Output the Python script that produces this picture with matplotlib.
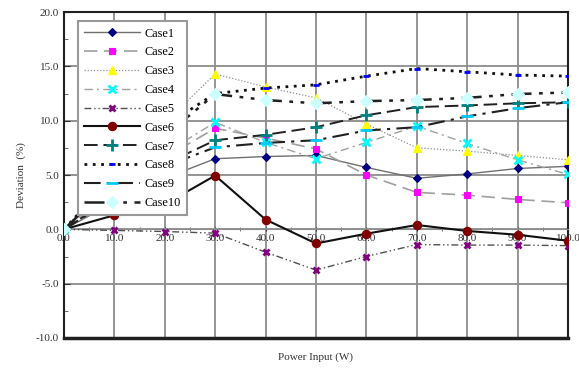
import numpy as np
import matplotlib
matplotlib.use('Agg')
import matplotlib.pyplot as plt
from matplotlib.ticker import MultipleLocator

plt.rcParams['font.family'] = ['Liberation Serif', 'DejaVu Serif']

power = [0, 10, 20, 30, 40, 50, 60, 70, 80, 90, 100]
case1 = [0, 2.5, 4.7, 6.5, 6.7, 6.8, 5.7, 4.7, 5.1, 5.6, 5.8]
case2 = [0, 3.5, 6.6, 9.3, 8.4, 7.4, 5.0, 3.4, 3.15, 2.75, 2.45]
case3 = [0, 5.0, 9.8, 14.3, 13.1, 12.1, 9.7, 7.5, 7.2, 6.8, 6.4]
case4 = [0, 3.6, 7.0, 9.85, 8.0, 6.5, 8.0, 9.5, 7.9, 6.4, 5.05]
case5 = [0, -0.1, -0.2, -0.35, -2.1, -3.75, -2.5, -1.4, -1.45, -1.45, -1.5]
case6 = [0, 1.3, 2.3, 4.95, 0.9, -1.3, -0.4, 0.4, -0.15, -0.5, -1.05]
case7 = [0, 3.0, 6.0, 8.2, 8.7, 9.4, 10.5, 11.25, 11.4, 11.6, 11.7]
case8 = [0, 5.0, 9.5, 12.5, 13.0, 13.3, 14.1, 14.8, 14.5, 14.2, 14.1]
case9 = [0, 2.9, 5.8, 7.55, 7.95, 8.2, 9.1, 9.4, 10.4, 11.15, 11.7]
case10 = [0, 4.4, 8.6, 12.45, 11.9, 11.6, 11.8, 11.9, 12.1, 12.45, 12.6]

fig = plt.figure(figsize=(5.79, 3.70), dpi=100)
ax = fig.add_axes([0.1105, 0.0865, 0.8705, 0.881])

# line style, line colour, width, marker, marker colour, marker size
styles = [
    ('Case1', case1, '-', '#707070', 1.0, 'D', '#000080', 4),
    ('Case2', case2, (0, (8, 4)), '#a0a0a0', 1.2, 's', '#ff00ff', 4.5),
    ('Case3', case3, (0, (1, 1.5)), '#909090', 0.9, '^', '#ffff00', 6),
    ('Case4', case4, (0, (6, 3, 1.5, 3)), '#a0a0a0', 1.0, 'x', '#00ffff', 6),
    ('Case5', case5, (0, (5, 2, 1, 2, 1, 2)), '#505050', 1.0, 'x', '#800080', 5),
    ('Case6', case6, '-', '#101010', 1.5, 'o', '#800000', 6),
    ('Case7', case7, (0, (7, 3)), '#202020', 1.4, '+', '#008080', 8),
    ('Case8', case8, (0, (1, 2)), '#101010', 2.0, '_', '#0000ff', 5),
    ('Case9', case9, (0, (8, 3, 1.5, 3)), '#202020', 1.5, '_', '#00ccff', 8),
    ('Case10', case10, (0, (8, 3, 1.5, 3, 1.5, 3)), '#202020', 1.8, 'D', '#ccffff', 6),
]

for name, vals, ls, lc, lw, mk, mc, ms in styles:
    ax.plot(power, vals, linestyle=ls, color=lc, linewidth=lw, marker=mk,
            markerfacecolor=mc, markeredgecolor=mc, markersize=ms,
            markeredgewidth=2 if mk in ('x', '+', '_') else 0.8,
            label=name, zorder=3)

ax.set_xlim(0, 100)
ax.set_ylim(-10, 20)
ax.xaxis.set_major_locator(MultipleLocator(10))
ax.xaxis.set_minor_locator(MultipleLocator(5))
ax.yaxis.set_major_locator(MultipleLocator(5))
ax.yaxis.set_minor_locator(MultipleLocator(2.5))
ax.xaxis.set_major_formatter(matplotlib.ticker.FormatStrFormatter('%.1f'))
ax.yaxis.set_major_formatter(matplotlib.ticker.FormatStrFormatter('%.1f'))
ax.grid(True, which='major', color='#8c8c8c', linewidth=1.3, zorder=0)
ax.set_axisbelow(True)

ax.spines['bottom'].set_position(('data', 0))
ax.spines['bottom'].set_color('#8c8c8c')
for s in ('left', 'right', 'top'):
    ax.spines[s].set_color('#202020')
    ax.spines[s].set_linewidth(1.5)
ax.axhline(-10, color='#202020', linewidth=2.5, clip_on=False, zorder=4)

ax.tick_params(axis='x', which='major', length=3, direction='inout', labelsize=8, pad=2, colors='#333333')
ax.tick_params(axis='x', which='minor', length=3, direction='inout', color='#555555')
ax.tick_params(axis='y', which='major', length=4, direction='in', labelsize=8, colors='#333333')
ax.tick_params(axis='y', which='minor', length=3, direction='in', color='#555555')

ax.set_ylabel('Deviation  (%)', fontsize=8, color='#333333', labelpad=7)
ax.set_xlabel('Power Input (W)', fontsize=8, color='#333333')
ax.xaxis.set_label_coords(0.5, -0.045)

leg = ax.legend(loc='upper left', bbox_to_anchor=(0.016, 0.99), fontsize=8.8,
                handlelength=4.6, labelspacing=0.56, borderpad=0.5,
                fancybox=False, framealpha=1, edgecolor='#999999', handletextpad=0.3)
leg.get_frame().set_linewidth(1.5)
leg.set_zorder(5)

fig.savefig('out.png', dpi=100)
